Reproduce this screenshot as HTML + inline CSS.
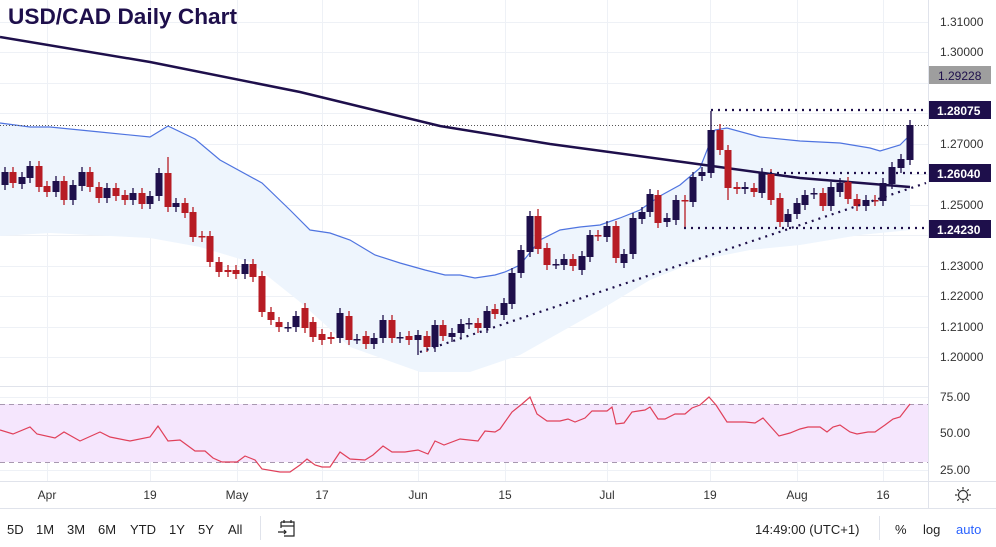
<!DOCTYPE html>
<html><head><meta charset="utf-8"><style>
html,body{margin:0;padding:0;background:#fff;width:996px;height:547px;overflow:hidden}
svg{display:block;font-family:"Liberation Sans",sans-serif}
</style></head><body>
<svg id="s" width="996" height="547" viewBox="0 0 996 547" xmlns="http://www.w3.org/2000/svg">
<rect width="996" height="547" fill="#fff"/>
<g stroke="#eef1f6" stroke-width="1">
<line x1="0" y1="22.5" x2="928" y2="22.5"/><line x1="0" y1="52.5" x2="928" y2="52.5"/><line x1="0" y1="83.5" x2="928" y2="83.5"/><line x1="0" y1="113.5" x2="928" y2="113.5"/><line x1="0" y1="144.5" x2="928" y2="144.5"/><line x1="0" y1="174.5" x2="928" y2="174.5"/><line x1="0" y1="205.5" x2="928" y2="205.5"/><line x1="0" y1="235.5" x2="928" y2="235.5"/><line x1="0" y1="266.5" x2="928" y2="266.5"/><line x1="0" y1="296.5" x2="928" y2="296.5"/><line x1="0" y1="327.5" x2="928" y2="327.5"/><line x1="0" y1="357.5" x2="928" y2="357.5"/>
<line x1="0" y1="397.5" x2="928" y2="397.5"/><line x1="0" y1="433.5" x2="928" y2="433.5"/><line x1="0" y1="470.5" x2="928" y2="470.5"/>
<line x1="47.5" y1="0" x2="47.5" y2="481"/><line x1="150.5" y1="0" x2="150.5" y2="481"/><line x1="237.5" y1="0" x2="237.5" y2="481"/><line x1="322.5" y1="0" x2="322.5" y2="481"/><line x1="418.5" y1="0" x2="418.5" y2="481"/><line x1="505.5" y1="0" x2="505.5" y2="481"/><line x1="607.5" y1="0" x2="607.5" y2="481"/><line x1="710.5" y1="0" x2="710.5" y2="481"/><line x1="797.5" y1="0" x2="797.5" y2="481"/><line x1="883.5" y1="0" x2="883.5" y2="481"/>
</g>
<!-- bollinger fill -->
<path d="M0,123 L30,127 L50,127 L100,132 L150,137 L168,126 L195,139 L220,160 L262,183 L290,210 L310,230 L330,233 L350,240 L375,255 L400,263 L425,270 L445,275 L460,275 L475,278 L495,275 L505,272 L520,265 L540,240 L560,230 L580,227 L600,225 L620,218 L640,210 L660,196 L680,185 L700,168 L715,130 L727,128 L760,137 L800,141 L840,143 L870,148 L880,151 L900,145 L910,135 L910,230 L860,235 L800,245 L750,250 L700,260 L650,280 L600,310 L520,355 L470,372 L420,372 L350,347 L300,302 L250,262 L200,247 L150,238 L50,233 L0,236 Z" fill="#eef5fd"/>
<polyline points="0,123 30,127 50,127 100,132 150,137 168,126 195,139 220,160 262,183 290,210 310,230 330,233 350,240 375,255 400,263 425,270 445,275 460,275 475,278 495,275 505,272 520,265 540,240 560,230 580,227 600,225 620,218 640,210 660,196 680,185 700,168 715,130 727,128 760,137 800,141 840,143 870,148 880,151 900,145 910,135" fill="none" stroke="#4f74e0" stroke-width="1.2"/>
<line x1="0" y1="125.5" x2="928" y2="125.5" stroke="#555" stroke-width="1" stroke-dasharray="1,2"/>
<polyline points="0,37 150,62 300,92 440,126 550,144 690,163 800,178 910,187" fill="none" stroke="#1e0f4b" stroke-width="2.5"/>
<g id="candles"></g>
<g stroke="#1e0f4b" stroke-width="2.2" stroke-dasharray="2,5" fill="none">
<line x1="711" y1="110" x2="926" y2="110"/>
<line x1="770" y1="173" x2="926" y2="173"/>
<line x1="684" y1="228" x2="926" y2="228"/>
<line x1="420" y1="352" x2="926" y2="183"/>
</g>
<!-- RSI -->
<rect x="0" y="404" width="928" height="58" fill="#f5e6fd"/>
<line x1="0" y1="404.5" x2="928" y2="404.5" stroke="#a898b0" stroke-dasharray="5,4"/>
<line x1="0" y1="462.5" x2="928" y2="462.5" stroke="#a898b0" stroke-dasharray="5,4"/>
<polyline fill="none" stroke="#e0405a" stroke-width="1.2" points="0,430 13,434 30,427 37,434 55,438 64,432 80,441 100,432 110,437 130,441 150,437 158,426 168,441 180,440 195,451 205,451 213,458 222,462 237,462 245,456 255,460 262,469 280,472 290,472 300,465 307,459 315,465 322,467 330,467 340,452 350,459 365,460 373,455 383,446 392,452 405,452 418,450 428,454 435,441 444,445 460,439 478,441 485,431 495,432 500,429 512,412 522,404 530,397 537,414 547,421 560,421 568,419 575,422 585,418 592,411 607,411 612,407 616,424 624,423 632,412 645,410 650,407 658,419 665,419 675,414 685,414 692,408 700,405 709,397 716,405 727,422 745,422 755,423 763,418 779,436 790,433 800,429 808,427 820,427 827,432 833,427 840,425 850,432 857,434 868,432 875,432 885,425 893,419 900,417 910,404"/>
<!-- separators -->
<line x1="0" y1="386.5" x2="928" y2="386.5" stroke="#e0e3eb"/>
<line x1="0" y1="481.5" x2="996" y2="481.5" stroke="#e0e3eb"/>
<line x1="0" y1="508.5" x2="996" y2="508.5" stroke="#e0e3eb"/>
<line x1="928.5" y1="0" x2="928.5" y2="508" stroke="#e0e3eb"/>
<!-- title -->
<text x="8" y="24" font-size="22" font-weight="bold" fill="#1e0f4b" textLength="229" lengthAdjust="spacingAndGlyphs">USD/CAD Daily Chart</text>
<!-- price axis -->
<g font-size="12" fill="#333">
<text x="940" y="26">1.31000</text><text x="940" y="56">1.30000</text><text x="940" y="148">1.27000</text><text x="940" y="209">1.25000</text><text x="940" y="270">1.23000</text><text x="940" y="300">1.22000</text><text x="940" y="331">1.21000</text><text x="940" y="361">1.20000</text>
<text x="940" y="401">75.00</text><text x="940" y="437">50.00</text><text x="940" y="474">25.00</text>
</g>
<rect x="929" y="66" width="62" height="18" fill="#9e9e9e"/><text x="938" y="80" font-size="12" fill="#1e0f4b">1.29228</text>
<g font-size="12" font-weight="bold" fill="#fff">
<rect x="929" y="101" width="62" height="18" fill="#1e0f4b"/><text x="937" y="115">1.28075</text>
<rect x="929" y="164" width="62" height="18" fill="#1e0f4b"/><text x="937" y="178">1.26040</text>
<rect x="929" y="220" width="62" height="18" fill="#1e0f4b"/><text x="937" y="234">1.24230</text>
</g>
<!-- time axis -->
<g font-size="12" fill="#333" text-anchor="middle">
<text x="47" y="499">Apr</text><text x="150" y="499">19</text><text x="237" y="499">May</text><text x="322" y="499">17</text><text x="418" y="499">Jun</text><text x="505" y="499">15</text><text x="607" y="499">Jul</text><text x="710" y="499">19</text><text x="797" y="499">Aug</text><text x="883" y="499">16</text>
</g>
<g transform="translate(963,495)" stroke="#333" stroke-width="1.2" fill="none">
<circle r="4.5"/><line x1="0" y1="-8" x2="0" y2="-5.5"/><line x1="0" y1="8" x2="0" y2="5.5"/><line x1="-8" y1="0" x2="-5.5" y2="0"/><line x1="8" y1="0" x2="5.5" y2="0"/>
<line x1="-5.7" y1="-5.7" x2="-4" y2="-4"/><line x1="5.7" y1="5.7" x2="4" y2="4"/><line x1="-5.7" y1="5.7" x2="-4" y2="4"/><line x1="5.7" y1="-5.7" x2="4" y2="-4"/>
</g>
<!-- toolbar -->
<g font-size="13" fill="#222">
<text x="7" y="534">5D</text><text x="36" y="534">1M</text><text x="67" y="534">3M</text><text x="98" y="534">6M</text><text x="130" y="534">YTD</text><text x="169" y="534">1Y</text><text x="198" y="534">5Y</text><text x="228" y="534">All</text>
<text x="755" y="534">14:49:00 (UTC+1)</text><text x="895" y="534">%</text><text x="923" y="534">log</text><text x="956" y="534" fill="#2962ff">auto</text>
</g>
<line x1="260.5" y1="516" x2="260.5" y2="540" stroke="#e0e3eb"/>
<line x1="879.5" y1="516" x2="879.5" y2="540" stroke="#e0e3eb"/>
<g transform="translate(278,520)" stroke="#222" stroke-width="1.2" fill="none">
<path d="M3,2 H16 V16 H6"/><line x1="3" y1="2" x2="3" y2="8"/><line x1="3" y1="6" x2="16" y2="6"/><line x1="6" y1="0" x2="6" y2="3"/><line x1="13" y1="0" x2="13" y2="3"/><path d="M0,12 H8 M6,10 L8,12 L6,14"/>
</g>
</svg>
<script>
var d=[[5,185,172],[13,172,183],[22,184,177],[30,178,166],[39,166,187],[47,186,192],[56,192,181],[64,181,200],[73,200,185],[82,186,172],[90,172,187],[99,187,198],[107,198,188],[116,188,196],[125,195,200],[133,200,193],[142,193,204],[150,204,196],[159,196,173],[168,173,207],[176,207,203],[185,203,213],[193,212,237],[202,236,237],[210,236,262],[219,262,272],[228,270,272],[236,270,274],[245,274,264],[253,264,277],[262,276,312],[271,312,320],[279,322,327],[288,327,327],[296,327,316],[305,308,328],[313,322,337],[322,334,340],[331,337,339],[340,338,313],[349,316,340],[357,339,339],[366,336,344],[374,344,338],[383,338,320],[392,320,338],[400,338,337],[409,336,340],[418,340,335],[427,336,347],[435,347,325],[443,325,336],[452,337,333],[461,333,324],[469,324,323],[478,323,328],[487,328,311],[495,309,314],[504,315,303],[512,304,273],[521,273,250],[530,252,216],[538,216,249],[547,248,265],[556,264,264],[564,265,259],[573,259,266],[582,270,256],[590,257,235],[598,235,236],[607,237,226],[616,226,258],[624,263,254],[633,254,218],[642,219,212],[650,212,194],[658,195,223],[667,222,218],[676,220,200],[685,200,201],[693,202,177],[702,176,172],[711,173,130],[720,130,150],[728,150,188],[737,187,189],[745,189,187],[754,188,192],[762,193,173],[771,174,200],[780,198,222],[788,222,214],[797,214,203],[805,205,195],[814,194,193],[823,193,206],[831,206,187],[840,192,183],[848,182,199],[857,199,206],[866,206,200],[875,200,201],[883,201,183],[892,184,167],[901,168,159],[910,160,125]];
var ex={168:[157,0],711:[111,0],418:[0,355],720:[124,0],728:[0,200],685:[0,228],538:[209,0]};
var g=document.getElementById('candles'),h='';
d.forEach(function(c){var x=c[0],o=c[1],cl=c[2],t=Math.min(o,cl),b=Math.max(o,cl);var col=cl<o?'#1e0f4b':'#b71c24';if(cl==o)col='#1e0f4b';
var hi=t-5,lo=b+5;if(ex[x]){if(ex[x][0])hi=ex[x][0];if(ex[x][1])lo=ex[x][1];}
h+='<line x1="'+x+'" y1="'+hi+'" x2="'+x+'" y2="'+lo+'" stroke="'+col+'" stroke-width="1.3"/>';
h+='<rect x="'+(x-3.5)+'" y="'+t+'" width="7" height="'+Math.max(b-t,1.5)+'" fill="'+col+'"/>';});
g.innerHTML=h;
</script>
</body></html>
